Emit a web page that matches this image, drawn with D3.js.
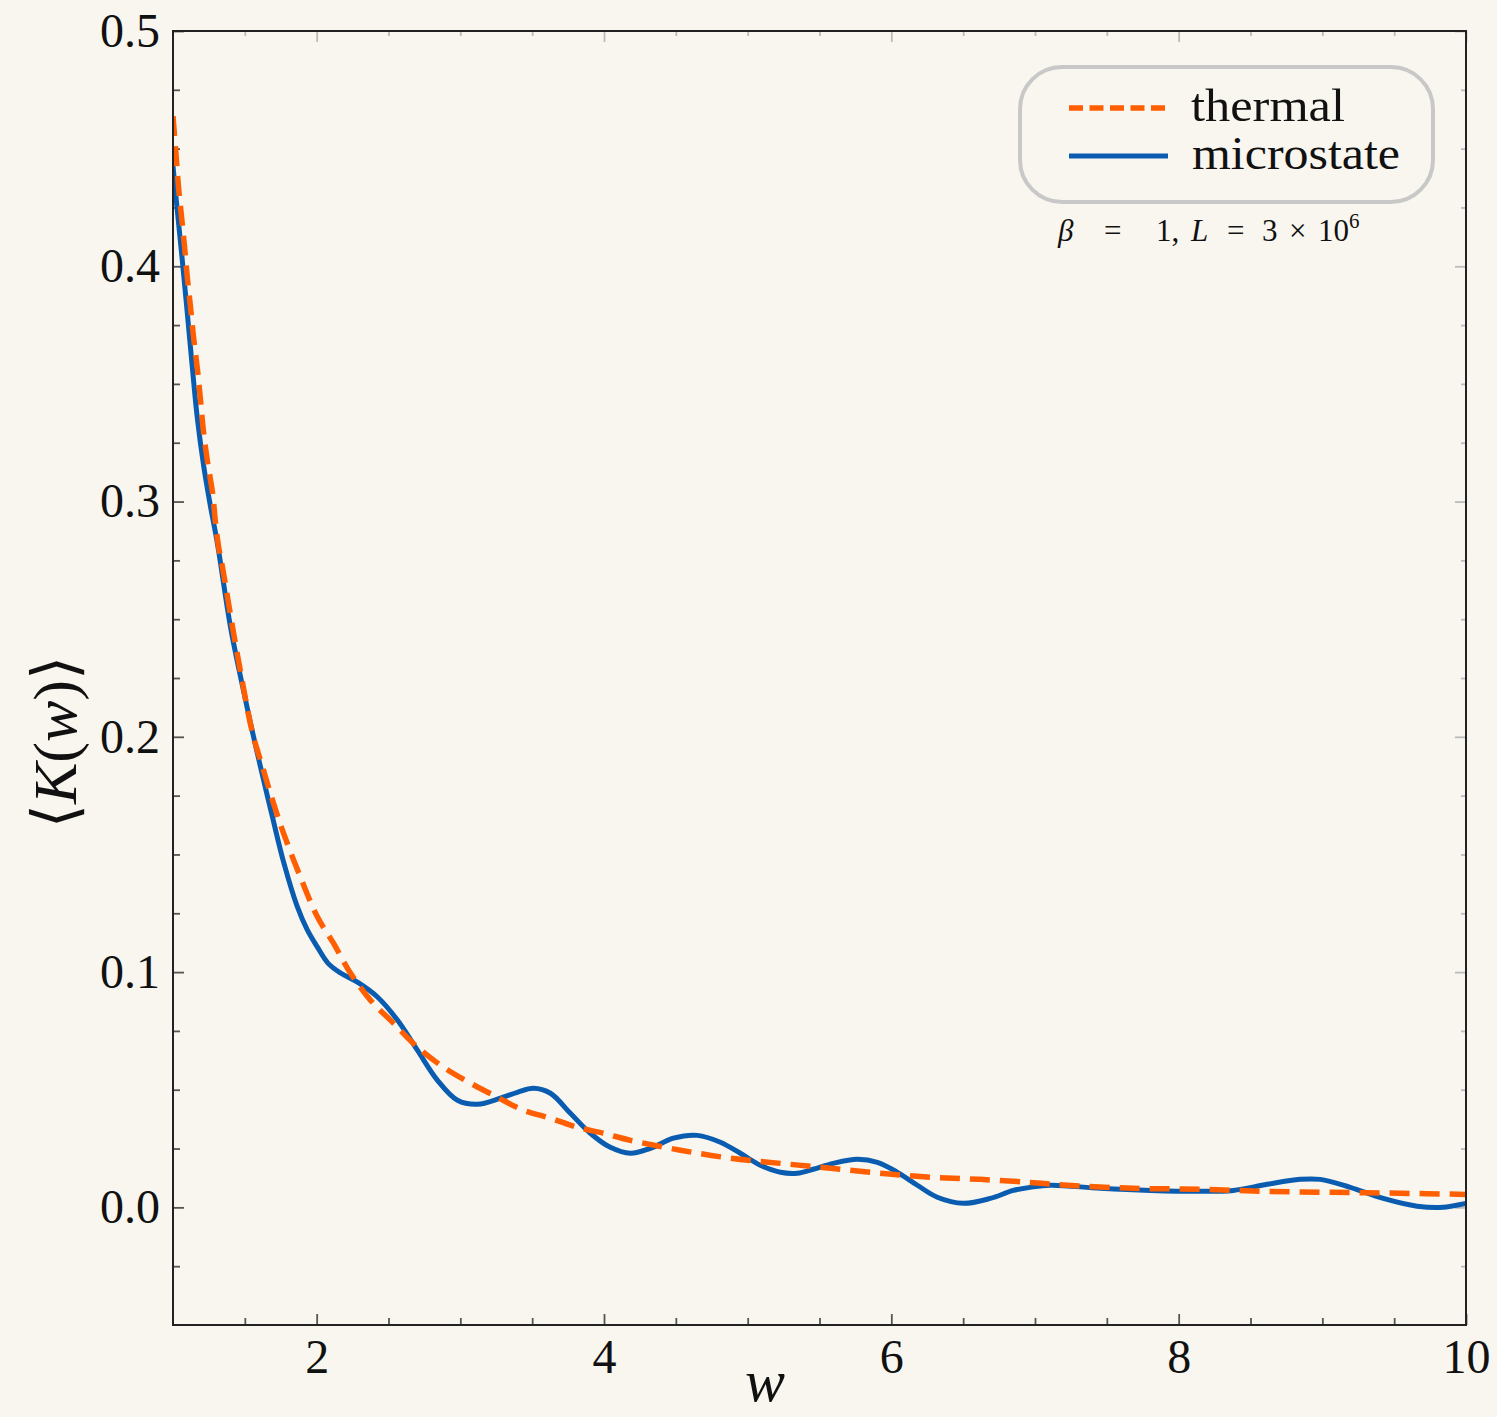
<!DOCTYPE html>
<html>
<head>
<meta charset="utf-8">
<script src="https://cdn.jsdelivr.net/npm/d3@7"></script>
<style>
  html, body { margin: 0; padding: 0; background: #f8f6ee; }
  svg { display: block; }
  text { font-family: "Liberation Serif", "DejaVu Serif", serif; fill: #111; }
</style>
</head>
<body>
<div id="chart"></div>
<script>
// thermal curve (w, <K(w)>)
const thermalW = [1.0, 1.022, 1.038, 1.059, 1.08, 1.099, 1.122, 1.143, 1.17, 1.191, 1.212, 1.24, 1.275, 1.296,
  1.317, 1.344, 1.414, 1.484, 1.553, 1.623, 1.692, 1.769, 1.887, 2.006, 2.117, 2.235, 2.374, 2.534, 2.701,
  2.882, 3.07, 3.258, 3.439, 3.627, 3.815, 3.996, 4.184, 4.532, 4.88, 5.228, 5.576, 5.924, 6.271, 6.619,
  6.967, 7.225, 7.684, 8.15, 8.616, 9.076, 9.542, 10.0];
const thermalK = [0.4638, 0.4468, 0.434, 0.4213, 0.4085, 0.3957, 0.3826, 0.3698, 0.3562, 0.3434, 0.3298, 0.317,
  0.3038, 0.2911, 0.2809, 0.2723, 0.2468, 0.223, 0.2017, 0.1872, 0.1732, 0.1591, 0.1404, 0.1234, 0.1123,
  0.0996, 0.0881, 0.0783, 0.0681, 0.0596, 0.0528, 0.0468, 0.0413, 0.0379, 0.034, 0.0315, 0.0285, 0.0243,
  0.0209, 0.0187, 0.0166, 0.0145, 0.0128, 0.0119, 0.0106, 0.0094, 0.0081, 0.0077, 0.0068, 0.0064, 0.006, 0.0055];

// microstate curve
const microW = [1.0, 1.029, 1.064, 1.099, 1.134, 1.168, 1.214, 1.261, 1.308, 1.4, 1.47, 1.539, 1.609,
  1.69, 1.771, 1.864, 1.934, 2.003, 2.08, 2.166, 2.284, 2.423, 2.562, 2.701, 2.841, 2.98, 3.119, 3.279,
  3.397, 3.509, 3.627, 3.766, 3.905, 4.044, 4.184, 4.323, 4.483, 4.65, 4.81, 4.949, 5.088, 5.228, 5.346,
  5.457, 5.596, 5.763, 5.903, 6.042, 6.181, 6.32, 6.501, 6.689, 6.849, 6.967, 7.106, 7.454, 7.802, 8.15,
  8.38, 8.616, 8.846, 8.985, 9.194, 9.424, 9.66, 9.841, 10.0];
const microK = [0.4426, 0.4243, 0.403, 0.3804, 0.3574, 0.3362, 0.3149, 0.2979, 0.2826, 0.2468, 0.2255,
  0.206, 0.1872, 0.1665, 0.1465, 0.128, 0.118, 0.1108, 0.1037, 0.0996, 0.0957, 0.0894, 0.0796, 0.0668,
  0.054, 0.0455, 0.0438, 0.0464, 0.0489, 0.0506, 0.0485, 0.04, 0.0315, 0.0255, 0.023, 0.0251, 0.0294,
  0.0306, 0.0277, 0.023, 0.0179, 0.0149, 0.0145, 0.0162, 0.0187, 0.0204, 0.0191, 0.0149, 0.0094, 0.0043,
  0.0017, 0.0038, 0.0072, 0.0085, 0.0094, 0.0081, 0.0072, 0.0068, 0.0072, 0.0098, 0.0119, 0.0119, 0.0085,
  0.0038, 0.0005, 0.0, 0.0017];

const xTicks = [2, 4, 6, 8, 10];
const xMinor = [1.5, 2.5, 3, 3.5, 4.5, 5, 5.5, 6.5, 7, 7.5, 8.5, 9, 9.5];
const yTicks = [0.0, 0.1, 0.2, 0.3, 0.4, 0.5];
const yMinor = [-0.025, 0.025, 0.05, 0.075, 0.125, 0.15, 0.175, 0.225, 0.25, 0.275, 0.325, 0.35, 0.375, 0.425, 0.45, 0.475];

const width = 1497, height = 1417;
const m = { left: 173, right: 31, top: 31, bottom: 92 };

const svg = d3.select("#chart").append("svg")
  .attr("width", width).attr("height", height);

svg.append("rect").attr("width", width).attr("height", height).attr("fill", "#f8f6ee");

const x = d3.scaleLinear().domain([1, 10]).range([m.left, width - m.right]);
const y = d3.scaleLinear().domain([-0.05, 0.5]).range([height - m.bottom, m.top]);

// ticks (inward)
function styleAxis(g, color) {
  g.select(".domain").remove();
  g.selectAll(".tick line").attr("stroke", color).attr("stroke-width", 1.8);
  g.selectAll(".tick text").attr("font-size", 48).attr("fill", "#111")
    .attr("font-family", '"Liberation Serif", serif');
}

svg.append("g").attr("transform", `translate(0,${height - m.bottom})`)
  .call(d3.axisBottom(x).tickValues(xTicks).tickSize(-11).tickPadding(14).tickFormat(d3.format("d")))
  .call(g => styleAxis(g, "#555"));
svg.append("g").attr("transform", `translate(0,${height - m.bottom})`)
  .call(d3.axisBottom(x).tickValues(xMinor).tickSize(-7).tickFormat(""))
  .call(g => styleAxis(g, "#555"));
svg.append("g").attr("transform", `translate(${m.left},0)`)
  .call(d3.axisLeft(y).tickValues(yTicks).tickSize(-11).tickPadding(13).tickFormat(d3.format(".1f")))
  .call(g => styleAxis(g, "#555"));
svg.append("g").attr("transform", `translate(${m.left},0)`)
  .call(d3.axisLeft(y).tickValues(yMinor).tickSize(-7).tickFormat(""))
  .call(g => styleAxis(g, "#555"));

// top / right mirrored ticks (light)
svg.append("g").attr("transform", `translate(0,${m.top})`)
  .call(d3.axisTop(x).tickValues(xTicks).tickSize(-11).tickFormat(""))
  .call(g => styleAxis(g, "#bbb"));
svg.append("g").attr("transform", `translate(0,${m.top})`)
  .call(d3.axisTop(x).tickValues(xMinor).tickSize(-5).tickFormat(""))
  .call(g => styleAxis(g, "#bbb"));
svg.append("g").attr("transform", `translate(${width - m.right},0)`)
  .call(d3.axisRight(y).tickValues(yTicks).tickSize(-11).tickFormat(""))
  .call(g => styleAxis(g, "#bbb"));
svg.append("g").attr("transform", `translate(${width - m.right},0)`)
  .call(d3.axisRight(y).tickValues(yMinor).tickSize(-5).tickFormat(""))
  .call(g => styleAxis(g, "#bbb"));

// curves
const line = d3.line().x(d => x(d[0])).y(d => y(d[1])).curve(d3.curveCatmullRom.alpha(0.5));
const microData = microW.map((w, i) => [w, microK[i]]);
const thermalData = thermalW.map((w, i) => [w, thermalK[i]]);

svg.append("defs").append("clipPath").attr("id", "clip")
  .append("rect").attr("x", m.left).attr("y", m.top)
  .attr("width", width - m.left - m.right).attr("height", height - m.top - m.bottom);

const plot = svg.append("g").attr("clip-path", "url(#clip)");
plot.append("path").datum(microData).attr("d", line)
  .attr("fill", "none").attr("stroke", "#0a5cb0").attr("stroke-width", 5);
plot.append("path").datum(thermalData).attr("d", line)
  .attr("fill", "none").attr("stroke", "#ff5f00").attr("stroke-width", 5.5)
  .attr("stroke-dasharray", "20,10");

// frame
svg.append("rect").attr("x", m.left).attr("y", m.top)
  .attr("width", width - m.left - m.right).attr("height", height - m.top - m.bottom)
  .attr("fill", "none").attr("stroke", "#222").attr("stroke-width", 2);

// axis labels
svg.append("text").attr("x", 765).attr("y", 1401).attr("text-anchor", "middle")
  .attr("font-size", 60).attr("font-style", "italic").text("w");

const yl = svg.append("text").attr("transform", "translate(76,742) rotate(-90)")
  .attr("text-anchor", "middle").attr("font-size", 62);
yl.append("tspan").attr("font-family", '"DejaVu Serif", serif').attr("font-weight", 200).text("⟨");
yl.append("tspan").attr("font-style", "italic").text("K");
yl.append("tspan").text("(");
yl.append("tspan").attr("font-style", "italic").text("w");
yl.append("tspan").text(")");
yl.append("tspan").attr("font-family", '"DejaVu Serif", serif').attr("font-weight", 200).text("⟩");

// legend
const lg = svg.append("g");
lg.append("rect").attr("x", 1020).attr("y", 67).attr("width", 413).attr("height", 135)
  .attr("rx", 42).attr("fill", "#f8f6ee").attr("stroke", "#c8c8c8").attr("stroke-width", 4);
lg.append("line").attr("x1", 1069).attr("x2", 1168).attr("y1", 108).attr("y2", 108)
  .attr("stroke", "#ff5f00").attr("stroke-width", 5.5).attr("stroke-dasharray", "14,6.5");
lg.append("line").attr("x1", 1069).attr("x2", 1168).attr("y1", 156).attr("y2", 156)
  .attr("stroke", "#0a5cb0").attr("stroke-width", 5);
lg.append("text").attr("x", 1191).attr("y", 121).attr("font-size", 46)
  .attr("textLength", 154).attr("lengthAdjust", "spacingAndGlyphs").text("thermal");
lg.append("text").attr("x", 1192).attr("y", 169).attr("font-size", 46)
  .attr("textLength", 208).attr("lengthAdjust", "spacingAndGlyphs").text("microstate");

// annotation
const an = svg.append("text").attr("y", 241).attr("font-size", 31).attr("fill", "#222");
an.append("tspan").attr("x", 1058).attr("font-style", "italic").text("β");
an.append("tspan").attr("x", 1104).text("=");
an.append("tspan").attr("x", 1156).text("1,");
an.append("tspan").attr("x", 1191).attr("font-style", "italic").text("L");
an.append("tspan").attr("x", 1227).text("=");
an.append("tspan").attr("x", 1262).text("3");
an.append("tspan").attr("x", 1289).text("×");
an.append("tspan").attr("x", 1318).text("10");
an.append("tspan").attr("dy", -13).attr("font-size", 21).text("6");
</script>
</body>
</html>
